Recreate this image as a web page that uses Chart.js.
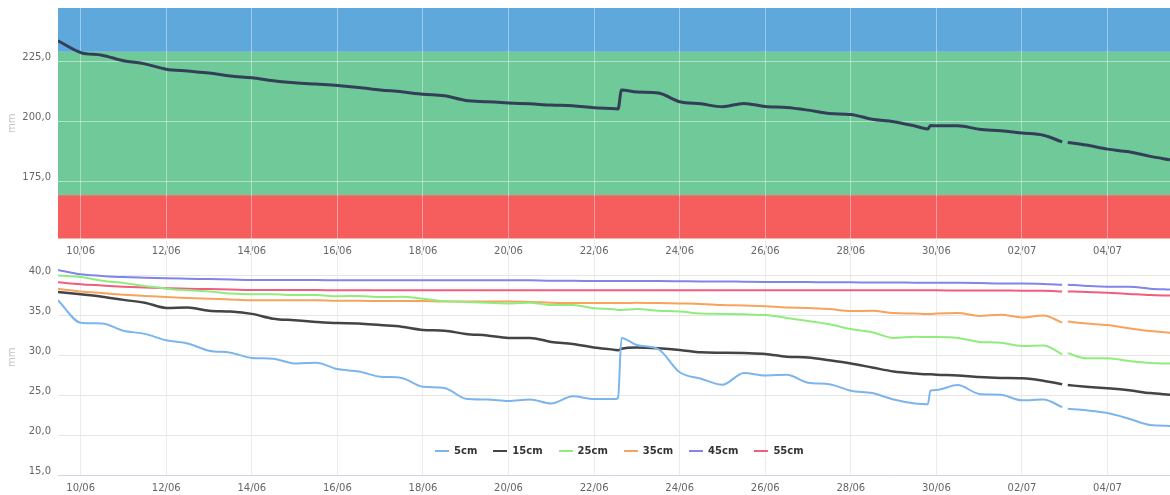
<!DOCTYPE html>
<html>
<head>
<meta charset="utf-8">
<script src="https://cdn.jsdelivr.net/npm/chart.js@4.4.1/dist/chart.umd.min.js"></script>
<style>
  body { margin: 0; background: #fff; }
  #wrap { position: relative; width: 1170px; height: 495px; overflow: hidden; }
  canvas { position: absolute; left: 0; }
  #topChart { top: 0; }
  #bottomChart { top: 238px; }
  #legend { position: absolute; left: 435px; top: 444px; display: flex; gap: 16px;
    font: bold 10px "DejaVu Sans", sans-serif; color: #333; line-height: 14px; }
  .item { display: flex; align-items: center; }
  .sw { width: 14px; height: 2px; margin-right: 5px; }
</style>
</head>
<body>
<div id="wrap">
  <canvas id="topChart" width="1170" height="258"></canvas>
  <canvas id="bottomChart" width="1170" height="257"></canvas>
  <div id="legend"></div>
</div>
<script>
// time axis in days counted from 1 June (32 = 02/07)
const days = [9.47, 10, 10.5, 11, 11.5, 12, 12.5, 13, 13.5, 14, 14.5, 15, 15.5, 16, 16.5, 17, 17.5, 18, 18.5, 19,
  19.5, 20, 20.5, 21, 21.5, 22, 22.5, 22.56, 22.64, 23, 23.5, 24, 24.5, 25, 25.5, 26, 26.5, 27, 27.5, 28,
  28.5, 29, 29.5, 29.8, 29.86, 30, 30.5, 31, 31.5, 32, 32.5, 32.94, 33, 33.07, 33.5, 34, 34.5, 35, 35.46];
const xTicks = [10, 12, 14, 16, 18, 20, 22, 24, 26, 28, 30, 32, 34];

// top chart: total storage (mm) with comfort bands
const storage = [233.6, 228.7, 227.6, 225.3, 224.0, 221.8, 221.0, 220.2, 219.0, 218.2, 217.0, 216.2, 215.6, 215.0, 214.2, 213.2, 212.4, 211.4, 210.8, 208.8,
  208.3, 207.8, 207.4, 206.9, 206.6, 205.8, 205.4, 205.3, 213.2, 212.3, 211.9, 208.3, 207.4, 206.2, 207.6, 206.3, 205.9, 204.8, 203.4, 203.0,
  201.0, 200.0, 198.2, 197.0, 198.4, 198.3, 198.3, 196.9, 196.2, 195.3, 194.4, 191.6, null, 191.4, 190.3, 188.6, 187.5, 185.6, 184.2];
const storageTicks = [175, 200, 225];
const bandLimits = [229, 169.5];

// bottom chart: moisture per depth
const depthLabels = ['5cm', '15cm', '25cm', '35cm', '45cm', '55cm'];
const depthColors = ['#7cb5ec', '#434348', '#90ed7d', '#f7a35c', '#8085e9', '#f15c80'];
const d5 = [36.9, 34.1, 34.0, 33.1, 32.7, 31.9, 31.5, 30.6, 30.35, 29.7, 29.6, 29.0, 29.1, 28.3, 28.0, 27.35, 27.2, 26.1, 25.95, 24.6,
  24.5, 24.3, 24.5, 24.0, 24.9, 24.55, 24.55, 24.7, 32.2, 31.3, 30.8, 27.9, 27.1, 26.35, 27.8, 27.5, 27.6, 26.6, 26.4, 25.6,
  25.3, 24.5, 24.0, 23.9, 25.6, 25.7, 26.3, 25.2, 25.1, 24.4, 24.5, 23.55, null, 23.35, 23.15, 22.8, 22.1, 21.3, 21.2];
const d15 = [37.94, 37.65, 37.35, 36.95, 36.6, 35.95, 36.0, 35.6, 35.5, 35.2, 34.6, 34.4, 34.2, 34.05, 34.0, 33.8, 33.6, 33.2, 33.1, 32.7,
  32.5, 32.2, 32.2, 31.7, 31.45, 31.0, 30.7, 30.65, 30.85, 31.0, 30.9, 30.7, 30.4, 30.35, 30.3, 30.2, 29.85, 29.75, 29.4, 29.0,
  28.5, 28.0, 27.75, 27.65, 27.65, 27.6, 27.5, 27.3, 27.2, 27.15, 26.85, 26.4, null, 26.3, 26.1, 25.9, 25.65, 25.3, 25.1];
const d25 = [40.0, 39.8, 39.35, 39.05, 38.7, 38.35, 38.15, 38.0, 37.75, 37.65, 37.65, 37.55, 37.55, 37.4, 37.45, 37.3, 37.35, 37.1, 36.8, 36.7,
  36.6, 36.5, 36.6, 36.3, 36.3, 35.9, 35.75, 35.7, 35.7, 35.8, 35.6, 35.5, 35.25, 35.2, 35.15, 35.05, 34.7, 34.3, 33.9, 33.3,
  32.9, 32.2, 32.35, 32.3, 32.3, 32.3, 32.2, 31.7, 31.6, 31.2, 31.25, 30.15, null, 30.3, 29.65, 29.65, 29.3, 29.05, 29.0];
const d35 = [38.35, 38.0, 37.8, 37.6, 37.45, 37.3, 37.2, 37.1, 37.0, 36.9, 36.9, 36.9, 36.9, 36.85, 36.85, 36.8, 36.8, 36.8, 36.75, 36.75,
  36.75, 36.75, 36.7, 36.6, 36.55, 36.55, 36.55, 36.55, 36.55, 36.6, 36.55, 36.5, 36.45, 36.3, 36.25, 36.15, 36.0, 35.95, 35.8, 35.55,
  35.6, 35.3, 35.25, 35.2, 35.2, 35.25, 35.3, 34.95, 35.1, 34.75, 35.0, 34.1, null, 34.25, 34.0, 33.8, 33.4, 33.05, 32.85];
const d45 = [40.7, 40.15, 39.95, 39.8, 39.72, 39.65, 39.6, 39.55, 39.5, 39.45, 39.45, 39.42, 39.42, 39.4, 39.4, 39.4, 39.4, 39.4, 39.4, 39.4,
  39.4, 39.4, 39.4, 39.35, 39.35, 39.3, 39.3, 39.3, 39.3, 39.3, 39.3, 39.28, 39.25, 39.25, 39.22, 39.2, 39.2, 39.18, 39.15, 39.15,
  39.12, 39.12, 39.1, 39.1, 39.1, 39.1, 39.08, 39.05, 39.0, 39.0, 38.95, 38.85, null, 38.85, 38.7, 38.6, 38.6, 38.35, 38.25];
const d55 = [39.15, 38.9, 38.75, 38.6, 38.5, 38.4, 38.35, 38.3, 38.25, 38.2, 38.2, 38.18, 38.18, 38.15, 38.15, 38.15, 38.15, 38.15, 38.15, 38.15,
  38.15, 38.15, 38.15, 38.15, 38.15, 38.15, 38.15, 38.15, 38.15, 38.15, 38.15, 38.15, 38.15, 38.15, 38.15, 38.15, 38.15, 38.15, 38.15, 38.15,
  38.15, 38.15, 38.15, 38.15, 38.15, 38.15, 38.12, 38.12, 38.12, 38.1, 38.1, 38.0, null, 38.0, 37.95, 37.85, 37.7, 37.55, 37.5];
const depthTicks = [15, 20, 25, 30, 35, 40];

const toPoints = vals => days.map((d, i) => ({ x: d, y: vals[i] }))

const dateLabel = v => {
    const dd = v > 30 ? v - 30 : v
    return String(dd).padStart(2, '0') + (v > 30 ? '/07' : '/06')
}
const numLabel = v => v.toFixed(1).replace('.', ',')
const tickFont = { family: 'DejaVu Sans', size: 10 }

// fixed axis boxes so both plots line up with the picture
const noPadding = axis => {
    axis.paddingTop = 0
    axis.paddingBottom = 0
    axis.paddingLeft = 0
    axis.paddingRight = 0
}

const xAxis = (gridColor, border) => ({
    type: 'linear',
    min: 9.47,
    max: 35.46,
    afterBuildTicks: axis => { axis.ticks = xTicks.map(v => ({ value: v })) },
    afterFit: axis => { axis.height = 19.5; noPadding(axis) },
    grid: { color: gridColor, drawTicks: false },
    border: border,
    ticks: { color: '#666', font: tickFont, padding: 7, maxRotation: 0, autoSkip: false, callback: dateLabel },
})

const yAxis = (min, max, ticks, gridColor) => ({
    min, max,
    afterBuildTicks: axis => { axis.ticks = ticks.map(v => ({ value: v })) },
    afterFit: axis => { axis.width = 58; noPadding(axis) },
    grid: { color: gridColor, drawTicks: false },
    border: { display: false },
    title: { display: true, text: 'mm', color: '#c4c4c4', font: { family: 'DejaVu Sans', size: 10 }, padding: { top: 6, bottom: 0 } },
    ticks: { color: '#666', font: tickFont, padding: 7, labelOffset: -4, callback: numLabel },
})

// background bands behind the top series
const bandsPlugin = {
    id: 'bands',
    beforeDraw(chart) {
        const { ctx, chartArea: a, scales: { y } } = chart
        const yHigh = y.getPixelForValue(bandLimits[0])
        const yLow = y.getPixelForValue(bandLimits[1])
        ctx.save()
        ctx.fillStyle = '#5fa8dc'
        ctx.fillRect(a.left, a.top, a.width, yHigh - a.top)
        ctx.fillStyle = '#70c998'
        ctx.fillRect(a.left, yHigh, a.width, yLow - yHigh)
        ctx.fillStyle = '#f65e5e'
        ctx.fillRect(a.left, yLow, a.width, a.bottom - yLow)
        ctx.restore()
    }
}

new Chart(document.getElementById('topChart'), {
    type: 'line',
    data: {
        datasets: [{
            label: 'mm',
            data: toPoints(storage),
            borderColor: '#333f58',
            borderWidth: 3,
            pointRadius: 0,
            cubicInterpolationMode: 'monotone',
        }]
    },
    options: {
        responsive: false,
        animation: false,
        layout: { padding: { top: 8, left: 0, right: 0, bottom: 0 } },
        plugins: { legend: { display: false }, tooltip: { enabled: false } },
        scales: {
            x: xAxis('rgba(255,255,255,0.4)', { display: false }),
            y: yAxis(151.5, 247.2, storageTicks, 'rgba(255,255,255,0.45)'),
        }
    },
    plugins: [bandsPlugin]
});

const depthSeries = [d5, d15, d25, d35, d45, d55]

new Chart(document.getElementById('bottomChart'), {
    type: 'line',
    data: {
        datasets: depthSeries.map((vals, i) => ({
            label: depthLabels[i],
            data: toPoints(vals),
            borderColor: depthColors[i],
            borderWidth: i === 1 ? 2.5 : 2,
            pointRadius: 0,
            cubicInterpolationMode: 'monotone',
        }))
    },
    options: {
        responsive: false,
        animation: false,
        layout: { padding: { top: 1, left: 0, right: 0, bottom: 0 } },
        plugins: { legend: { display: false }, tooltip: { enabled: false } },
        scales: {
            x: xAxis('#ececec', { display: true, color: '#ccd6eb' }),
            y: yAxis(15, 44.56, depthTicks, '#e6e6e6'),
        }
    }
});

const legend = document.getElementById('legend')
depthLabels.forEach((name, i) => {
    const item = document.createElement('div')
    item.className = 'item'
    item.innerHTML = `<span class="sw" style="background:${depthColors[i]}"></span><span>${name}</span>`
    legend.appendChild(item)
})
</script>
</body>
</html>
